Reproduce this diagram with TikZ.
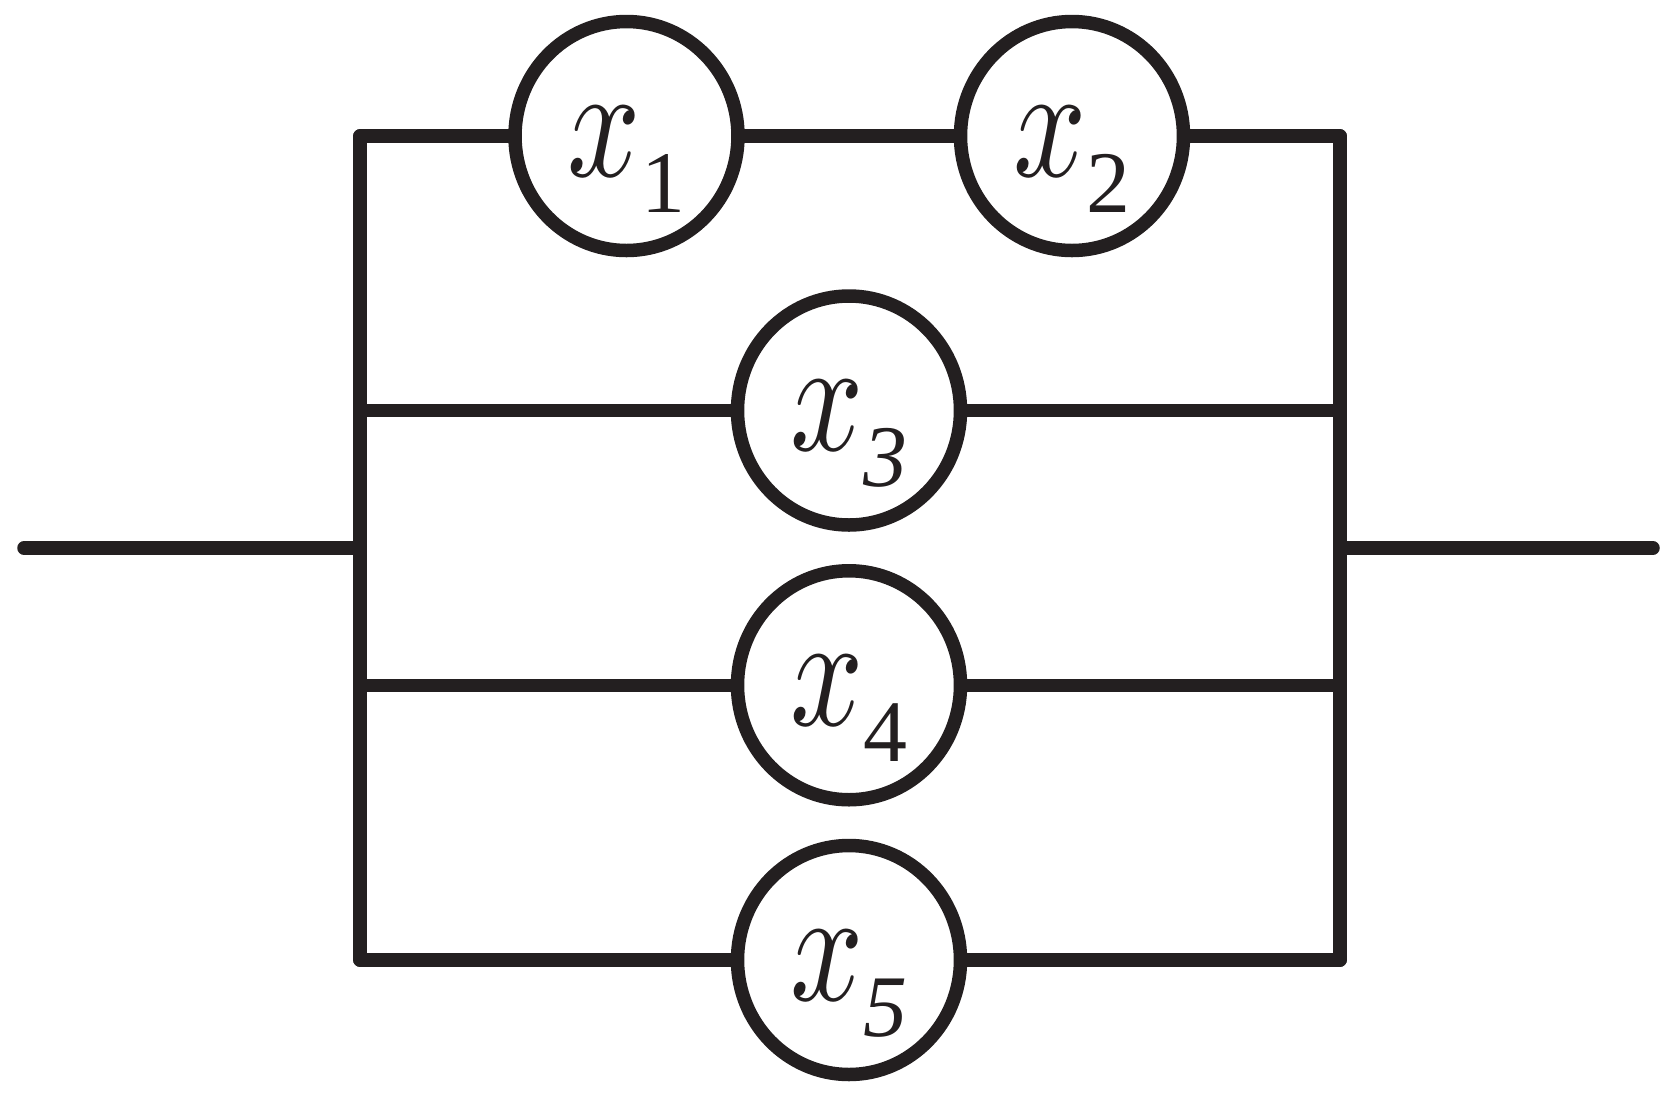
\documentclass[tikz,border=0pt]{standalone}
\usepackage{fontspec}
\setmainfont{Liberation Serif}
\usetikzlibrary{shapes.geometric}
\definecolor{inkblack}{HTML}{231F20}
\newcommand{\elemlabel}[1]{\scalebox{3.65}[4.6]{$x$}\raisebox{-0.36cm}{\fontsize{25}{28}\selectfont #1}}
\begin{document}
\begin{tikzpicture}[
    node distance=2.7475cm,
    elem/.style={ellipse, draw=inkblack, line width=0.135cm, inner sep=0pt, minimum width=2.23cm, minimum height=2.29cm, text=inkblack, text height=1.2cm, text depth=0.4cm},
    wire/.style={draw=inkblack, line width=0.135cm, line cap=round}
]
    \useasboundingbox (0,0) rectangle (16.76,-10.96);

    \node[elem] (x1) at (6.265,-1.36) {\elemlabel{1}};
    \node[elem, right of=x1, node distance=4.455cm] (x2) {\elemlabel{2}};
    \node[elem] (x3) at (8.49,-4.105) {\elemlabel{\textit{3}}};
    \node[elem, below of=x3] (x4) {\elemlabel{4}};
    \node[elem, below of=x4] (x5) {\elemlabel{\textit{5}}};

    \coordinate (lefttop) at (3.6,-1.36);
    \coordinate (leftbot) at (x5 -| lefttop);
    \coordinate (righttop) at (13.4,-1.36);
    \coordinate (rightbot) at (x5 -| righttop);
    \coordinate (in) at (0.24,-5.48);
    \coordinate (out) at (16.53,-5.48);

    \draw[wire] (lefttop) -- (leftbot);
    \draw[wire] (righttop) -- (rightbot);
    \draw[wire] (in) -- (in -| lefttop);
    \draw[wire] (out) -- (out -| righttop);

    \draw[wire] (lefttop) -- (x1);
    \draw[wire] (x1) -- (x2);
    \draw[wire] (x2) -- (righttop);
    \draw[wire] (x3 -| lefttop) -- (x3);
    \draw[wire] (x3) -- (x3 -| righttop);
    \draw[wire] (x4 -| lefttop) -- (x4);
    \draw[wire] (x4) -- (x4 -| righttop);
    \draw[wire] (leftbot) -- (x5);
    \draw[wire] (x5) -- (rightbot);
\end{tikzpicture}
\end{document}
